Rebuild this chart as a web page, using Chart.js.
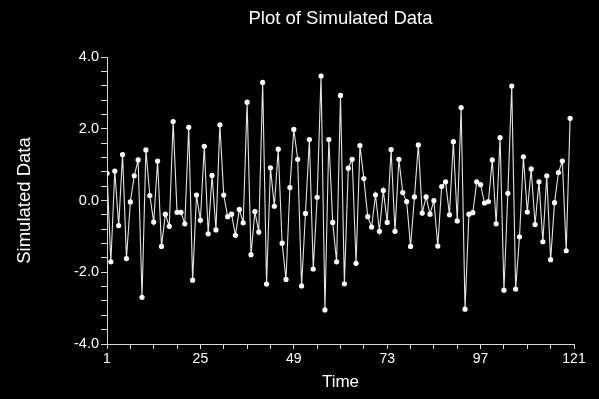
<!DOCTYPE html>
<html><head><meta charset="utf-8">
<script src="https://cdn.jsdelivr.net/npm/chart.js@4/dist/chart.umd.min.js"></script>
<style>html,body{margin:0;padding:0;background:#000;overflow:hidden}canvas{display:block}</style>
</head><body>
<canvas id="c" width="599" height="399"></canvas>
<script>
const time = [1,2,3,4,5,6,7,8,9,10,11,12,13,14,15,16,17,18,19,20,
  21,22,23,24,25,26,27,28,29,30,31,32,33,34,35,36,37,38,39,40,
  41,42,43,44,45,46,47,48,49,50,51,52,53,54,55,56,57,58,59,60,
  61,62,63,64,65,66,67,68,69,70,71,72,73,74,75,76,77,78,79,80,
  81,82,83,84,85,86,87,88,89,90,91,92,93,94,95,96,97,98,99,100,
  101,102,103,104,105,106,107,108,109,110,111,112,113,114,115,116,117,118,119,120];
const simulated = [0.76,-1.71,0.82,-0.70,1.28,-1.62,-0.04,0.69,1.13,-2.70,
  1.41,0.14,-0.60,1.10,-1.28,-0.38,-0.72,2.20,-0.33,-0.33,
  -0.65,2.04,-2.22,0.15,-0.55,1.51,-0.93,0.70,-0.82,2.11,
  0.15,-0.45,-0.38,-0.97,-0.25,-0.62,2.74,-1.51,-0.31,-0.88,
  3.29,-2.33,0.91,-0.16,1.43,-1.19,-2.20,0.36,1.98,1.15,
  -2.38,-0.36,1.70,-1.91,0.09,3.47,-3.05,1.70,-0.61,-1.71,
  2.93,-2.32,0.90,1.15,-1.75,1.53,0.61,-0.45,-0.74,0.16,
  -0.86,0.28,-0.61,1.42,-0.86,1.15,0.22,-0.03,-1.28,0.10,
  1.55,-0.35,0.10,-0.38,0.00,-1.27,0.39,0.52,-0.40,1.64,
  -0.57,2.59,-3.03,-0.38,-0.34,0.52,0.44,-0.07,-0.03,1.13,
  -0.65,1.75,-2.50,0.20,3.19,-2.47,-1.01,1.22,-0.32,0.88,
  -0.67,0.52,-1.15,0.69,-1.65,-0.06,0.78,1.10,-1.40,2.29];
const yTickLabels = [-4, -2, 0, 2, 4];
const yMinorTicks = [-4.0,-3.6,-3.2,-2.8,-2.4,-2.0,-1.6,-1.2,-0.8,-0.4,0.0,0.4,0.8,1.2,1.6,2.0,2.4,2.8,3.2,3.6,4.0];
const xTickLabels = [1, 25, 49, 73, 97, 121];
const xMinorTicks = [1,7,13,19,25,31,37,43,49,55,61,67,73,79,85,91,97,103,109,115,121];

const FONT = "'Liberation Sans', Arial, sans-serif";
const TEXT = '#ffffff';
const AXIS = '#d8d8d8';

const bgPlugin = {
  id: 'bg',
  beforeDraw(chart) {
    const ctx = chart.ctx;
    ctx.save();
    ctx.fillStyle = '#000';
    ctx.fillRect(0, 0, chart.width, chart.height);
    ctx.restore();
  }
};
const titlePlugin = {
  id: 'mainTitle',
  afterDraw(chart) {
    const ctx = chart.ctx, ca = chart.chartArea;
    ctx.save();
    ctx.fillStyle = TEXT;
    ctx.font = '18.5px ' + FONT;
    ctx.textAlign = 'center';
    ctx.textBaseline = 'middle';
    ctx.fillText('Plot of Simulated Data', (ca.left + ca.right) / 2, 19);
    ctx.restore();
  }
};

new Chart(document.getElementById('c'), {
  type: 'line',
  data: {
    datasets: [{
      data: time.map((t, i) => ({x: t, y: simulated[i]})),
      borderColor: '#e4e4e4',
      borderWidth: 1.1,
      pointRadius: 2.6,
      pointBorderWidth: 0,
      pointBackgroundColor: '#ffffff',
      tension: 0
    }]
  },
  options: {
    responsive: false,
    animation: false,
    devicePixelRatio: 1,
    layout: {padding: {left: 0, right: 25, top: 57, bottom: 0}},
    plugins: {legend: {display: false}, tooltip: {enabled: false}, title: {display: false}},
    scales: {
      x: {
        type: 'linear', min: 1, max: 121,
        afterFit(s) { s.height = 55; },
        afterBuildTicks(s) { s.ticks = xMinorTicks.map(v => ({value: v})); },
        grid: {display: true, drawOnChartArea: false, drawTicks: true, tickLength: 5, color: AXIS, lineWidth: 1},
        border: {display: true, color: AXIS, width: 1},
        ticks: {
          color: TEXT, font: {family: FONT, size: 14}, padding: 2, autoSkip: false, maxRotation: 0,
          callback: v => xTickLabels.includes(v) ? String(v) : ''
        },
        title: {display: true, text: 'Time', color: TEXT, font: {family: FONT, size: 17}, padding: {top: 0, bottom: 6}}
      },
      y: {
        type: 'linear', min: -4, max: 4, position: 'left',
        afterFit(s) { s.width = 107; },
        afterBuildTicks(s) { s.ticks = yMinorTicks.map(v => ({value: v})); },
        grid: {display: true, drawOnChartArea: false, drawTicks: true, tickLength: 6, color: AXIS, lineWidth: 1},
        border: {display: true, color: AXIS, width: 1},
        ticks: {
          color: TEXT, font: {family: FONT, size: 14.5}, padding: 2, autoSkip: false,
          callback: v => yTickLabels.some(t => Math.abs(t - v) < 1e-6) ? v.toFixed(1) : ''
        },
        title: {display: true, text: 'Simulated Data', color: TEXT, font: {family: FONT, size: 18.5}, padding: {top: 14, bottom: 0}}
      }
    }
  },
  plugins: [bgPlugin, titlePlugin]
});
</script>
</body></html>
